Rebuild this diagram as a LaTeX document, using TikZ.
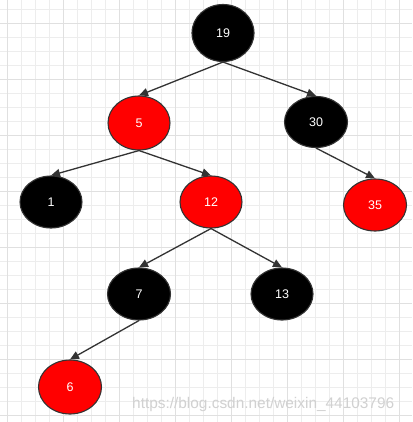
\documentclass[tikz,border=0pt]{standalone}
\usepackage{fontspec}
\setmainfont{Liberation Sans}
\usetikzlibrary{shapes.geometric,arrows.meta}
\begin{document}
\begin{tikzpicture}[x=1pt,y=-1pt,
  rbnode/.style={ellipse, draw=black!80, line width=1.1pt, inner sep=0pt,
    minimum width=62pt, minimum height=52pt, text=white,
    font=\fontsize{12.5}{14}\selectfont},
  blknode/.style={rbnode, fill=black},
  rednode/.style={rbnode, fill=red},
  edge/.style={draw=black!80, line width=1.3pt, -{Triangle[length=9pt,width=8pt]}},
  minorgrid/.style={draw=black!7, line width=0.8pt},
  majorgrid/.style={draw=black!12, line width=0.8pt}]
\useasboundingbox (0,0) rectangle (412,422);
\fill[white] (0,0) rectangle (412,422);
% grid
\foreach \x in {7.3,21.3,...,412} \draw[minorgrid] (\x,0) -- (\x,422);
\foreach \y in {9.3,23.3,...,422} \draw[minorgrid] (0,\y) -- (412,\y);
\foreach \x in {7.3,63.3,...,412} \draw[majorgrid] (\x,0) -- (\x,422);
\foreach \y in {23.3,79.3,...,422} \draw[majorgrid] (0,\y) -- (412,\y);
% nodes
\node[blknode, minimum height=57pt] (n19) at (223,33) {19};
\node[rednode, minimum height=54pt] (n5) at (139,123) {5};
\node[blknode, minimum width=63pt, minimum height=51pt] (n30) at (316,122) {30};
\node[blknode] (n1) at (51,202) {1};
\node[rednode] (n12) at (211,202) {12};
\node[rednode, minimum width=63pt] (n35) at (375,205) {35};
\node[blknode, minimum width=63pt] (n7) at (139,294) {7};
\node[blknode] (n13) at (282,294) {13};
\node[rednode, minimum width=63pt, minimum height=54pt] (n6) at (70,387) {6};
% edges
\draw[edge] (n19.south) -- (n5.north);
\draw[edge] (n19.south) -- (n30.north);
\draw[edge] (n5.south) -- (n1.north);
\draw[edge] (n5.south) -- (n12.north);
\draw[edge] (n30.south) -- (n35.north);
\draw[edge] (n12.south) -- (n7.north);
\draw[edge] (n12.south) -- (n13.north);
\draw[edge] (n7.south) -- (n6.north);
% watermark
\node[anchor=base west, inner sep=0pt, text=black!18, font=\fontsize{15.4}{18}\selectfont] (wm) at (132,408) {https://blog.csdn.net/weixin\_44103796};
\end{tikzpicture}
\end{document}
